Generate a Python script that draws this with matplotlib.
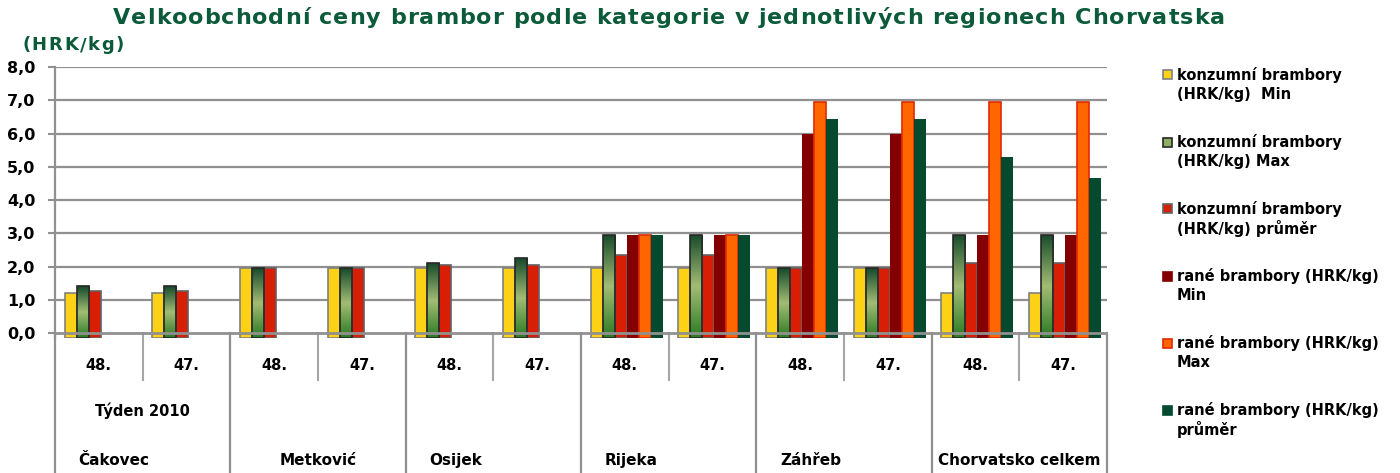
import numpy as np
import matplotlib
matplotlib.use("Agg")
import matplotlib.pyplot as plt
from matplotlib.patches import Rectangle
from matplotlib.colors import LinearSegmentedColormap
from matplotlib.font_manager import FontProperties, findfont, get_font
import matplotlib.transforms as mtransforms

# ---------------- data ----------------
weeks = ["48.", "47.", "48.", "47.", "48.", "47.", "48.", "47.", "48.", "47.", "48.", "47."]
regions = ["Čakovec", "Metković", "Osijek", "Rijeka", "Záhřeb", "Chorvatsko celkem"]
nan = np.nan
konz_min = [1.2, 1.2, 1.95, 1.95, 1.95, 1.95, 1.95, 1.95, 1.95, 1.95, 1.2, 1.2]
konz_max = [1.4, 1.4, 1.95, 1.95, 2.1, 2.25, 2.95, 2.95, 1.95, 1.95, 2.95, 2.95]
konz_avg = [1.25, 1.25, 1.95, 1.95, 2.05, 2.05, 2.35, 2.35, 1.95, 1.95, 2.1, 2.1]
rane_min = [nan, nan, nan, nan, nan, nan, 2.95, 2.95, 6.0, 6.0, 2.95, 2.95]
rane_max = [nan, nan, nan, nan, nan, nan, 2.95, 2.95, 6.95, 6.95, 6.95, 6.95]
rane_avg = [nan, nan, nan, nan, nan, nan, 2.95, 2.95, 6.45, 6.45, 5.3, 4.65]
series_labels = [
    "konzumní brambory\n(HRK/kg)  Min",
    "konzumní brambory\n(HRK/kg) Max",
    "konzumní brambory\n(HRK/kg) průměr",
    "rané brambory (HRK/kg)\nMin",
    "rané brambory (HRK/kg)\nMax",
    "rané brambory (HRK/kg)\nprůměr",
]
title = "Velkoobchodní ceny brambor podle kategorie v jednotlivých regionech Chorvatska"
unit_label = "(HRK/kg)"
axis_title = "Týden 2010"
yticks = [0, 1, 2, 3, 4, 5, 6, 7, 8]

# ---------------- styles ----------------
series = [konz_min, konz_max, konz_avg, rane_min, rane_max, rane_avg]
styles = [
    dict(face="#FCD116", edge="#808080", lw=1.2, grad=False),
    dict(face="#5f9545", edge="#262626", lw=1.2, grad=True),
    dict(face="#D91E06", edge="#626262", lw=1.2, grad=False),
    dict(face="#840000", edge="none", lw=0, grad=False),
    dict(face="#FF6600", edge="#E02A00", lw=1.2, grad=False),
    dict(face="#054A2F", edge="none", lw=0, grad=False),
]
green_cmap = LinearSegmentedColormap.from_list(
    "g", [(0.0, "#164a2b"), (0.5, "#a2bd73"), (1.0, "#2a7a23")])
TITLE_GREEN = "#0b5a3a"
GRID = "#909090"

W, H = 1400, 473
DPI = 100
plt.rcParams["font.family"] = ["DejaVu Sans"]
fig = plt.figure(figsize=(W / DPI, H / DPI), dpi=DPI)


def fx(px):
    return px / W


def fy(py):
    return 1 - py / H


def spaced_text(s, x_px, y_px, size, width_px, anchor="center", **kw):
    """Draw text as real text characters with extra letter spacing."""
    fp = FontProperties(family="DejaVu Sans", weight="bold", size=size)
    font = get_font(findfont(fp))
    font.set_size(size, DPI)
    advs = []
    for c in s:
        g = font.load_char(ord(c))
        advs.append(g.linearHoriAdvance / 65536.0)
    natural = sum(advs)
    track = (width_px - natural) / (len(s) - 1)
    total = natural + track * (len(s) - 1)
    start = x_px - total / 2 if anchor == "center" else x_px
    pos = start
    for c, a in zip(s, advs):
        fig.text(fx(pos), fy(y_px), c, ha="left", va="center", fontproperties=fp, **kw)
        pos += a + track


BASE = -0.15
ax = fig.add_axes([fx(55), fy(338), fx(1107) - fx(55), fy(67) - fy(338)])

n = len(weeks)
xc = np.arange(n) + 0.5
bw = 0.137
shift = 0.02
grad = np.linspace(0, 1, 256).reshape(-1, 1)

for j, (vals, st) in enumerate(zip(series, styles)):
    xs = xc + shift + (j - 2.5) * bw
    for xi, v in zip(xs, vals):
        if np.isnan(v):
            continue
        if st["grad"]:
            rect = ax.bar(xi, v - BASE, bw, bottom=BASE, facecolor="none",
                          edgecolor=st["edge"], linewidth=st["lw"], zorder=4)[0]
            im = ax.imshow(grad, cmap=green_cmap, aspect="auto", origin="upper",
                           extent=[xi - bw / 2, xi + bw / 2, BASE, v],
                           interpolation="bilinear", zorder=3)
            im.set_clip_path(rect)
        else:
            ax.bar(xi, v - BASE, bw, bottom=BASE, facecolor=st["face"],
                   edgecolor=st["edge"], linewidth=st["lw"], zorder=3)

ax.set_xlim(0, n)
ax.set_ylim(BASE, 8)
ax.set_xticks([])
ax.set_yticks(yticks)
ax.set_yticklabels([f"{v:.1f}".replace(".", ",") for v in yticks])
for lbl in ax.get_yticklabels():
    lbl.set_fontweight("bold")
ax.tick_params(axis="y", length=5, width=1.5, color=GRID, labelsize=11.5, pad=9)
for s in ["top", "right", "bottom"]:
    ax.spines[s].set_visible(False)
ax.spines["left"].set_color(GRID)
ax.spines["left"].set_linewidth(1.6)
for v in yticks[1:]:
    ax.axhline(v, color=GRID, lw=1.6, zorder=1)
ax.axhline(0, color=GRID, lw=2.0, zorder=6)

# ---------------- category axis ----------------
tr = mtransforms.blended_transform_factory(ax.transData, fig.transFigure)
for k in range(0, n + 1, 2):
    ax.plot([k, k], [fy(333), 0], color=GRID, lw=1.6, transform=tr, clip_on=False)
for k in range(1, n, 2):
    ax.plot([k, k], [fy(333), fy(380)], color="#a6a6a6", lw=1.5, transform=tr, clip_on=False)

for xi, w in zip(xc, weeks):
    ax.text(xi, fy(365), w, transform=tr, ha="center", va="center",
            fontsize=10.5, fontweight="bold")
ax.text(1.0, fy(411), axis_title, transform=tr, ha="center", va="center",
        fontsize=10.5, fontweight="bold")
region_align = ["left", "center", "left", "left", "left", "center"]
for r, (name, al) in enumerate(zip(regions, region_align)):
    xpos = 2 * r + (0.27 if al == "left" else 1.0)
    ax.text(xpos, fy(460), name, transform=tr, ha=al, va="center",
            fontsize=11, fontweight="bold")

# ---------------- titles ----------------
spaced_text(title, 669, 18, 16, 1112, anchor="center", color=TITLE_GREEN)
spaced_text(unit_label, 22, 45, 13, 102, anchor="left", color=TITLE_GREEN)

# ---------------- legend ----------------
leg_y0 = 75
leg_dy = 67
for j, (lab, st) in enumerate(zip(series_labels, styles)):
    y = leg_y0 + j * leg_dy
    face = "#8fb062" if st["grad"] else st["face"]
    edge = st["edge"] if st["edge"] != "none" else st["face"]
    fig.patches.append(Rectangle((fx(1163), fy(y + 4.5)), fx(9), 9 / H,
                                 facecolor=face, edgecolor=edge, lw=1.2,
                                 transform=fig.transFigure, figure=fig))
    for li, line in enumerate(lab.split("\n")):
        fig.text(fx(1177), fy(y + li * 19), line, ha="left", va="center",
                 fontsize=10.5, fontweight="bold")

fig.savefig("out.png", dpi=DPI)
